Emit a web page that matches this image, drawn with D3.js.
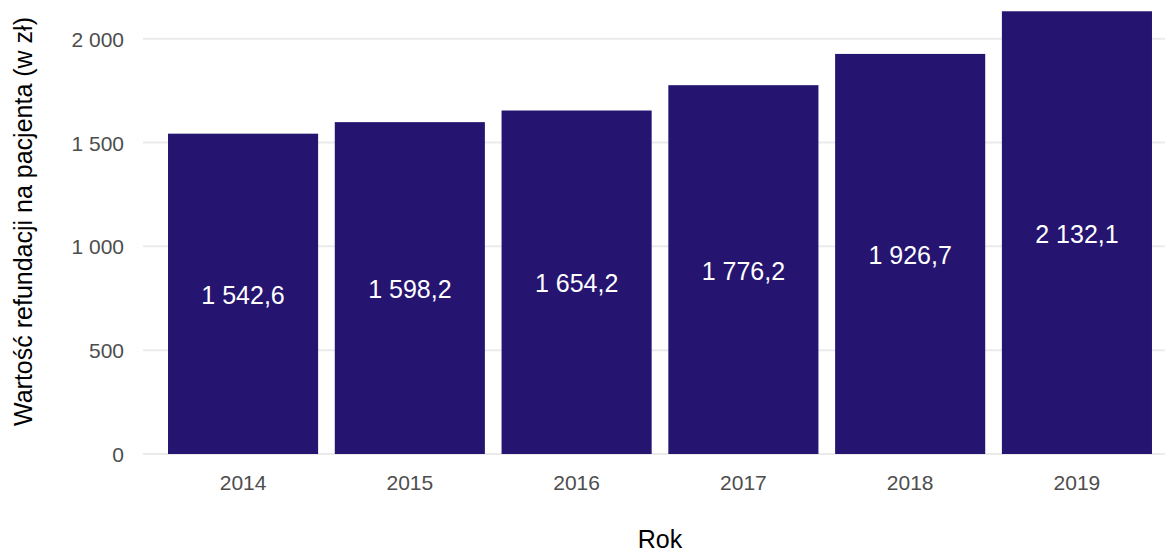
<!DOCTYPE html>
<html>
<head>
<meta charset="utf-8">
<script src="https://cdn.jsdelivr.net/npm/d3@7"></script>
<style>
  html, body { margin: 0; padding: 0; background: #fff; }
  svg { display: block; font-family: "Liberation Sans", Arial, sans-serif; }
</style>
</head>
<body>
<svg id="chart" width="1165" height="550"></svg>
<script>
// Refundacja na pacjenta w kolejnych latach
const years = ["2014", "2015", "2016", "2017", "2018", "2019"];
const values = [1542.6, 1598.2, 1654.2, 1776.2, 1926.7, 2132.1];
const yTicks = [0, 500, 1000, 1500, 2000];

const svg = d3.select("#chart");
const W = 1165, H = 550;

// panel extents
const panel = { left: 143, right: 1177, top: -11, bottom: 476 };

const x = d3.scaleBand()
  .domain(years)
  .range([panel.left, panel.right])
  .paddingInner(0.1)
  .paddingOuter(0.15);

const y = d3.scaleLinear()
  .domain([0, 2000])
  .range([454, 38.7]);

// Polish number formatting: space for thousands, comma for decimals
const pl = d3.formatLocale({ decimal: ",", thousands: "\u00a0", grouping: [3], currency: ["", " zł"] });
const fmtInt = pl.format(",.0f");
const fmtDec = pl.format(",.1f");

// gridlines
svg.append("g")
  .selectAll("line")
  .data(yTicks)
  .join("line")
  .attr("x1", panel.left)
  .attr("x2", W)
  .attr("y1", d => y(d))
  .attr("y2", d => y(d))
  .attr("stroke", "#ebebeb")
  .attr("stroke-width", 2);

// y axis labels
const yAxis = d3.axisLeft(y).tickValues(yTicks).tickSize(0).tickPadding(0).tickFormat(fmtInt);
const gy = svg.append("g").attr("transform", `translate(124,0)`).call(yAxis);
gy.select(".domain").remove();
gy.selectAll("text")
  .attr("fill", "#4d4d4d")
  .attr("font-size", 21)
  .attr("font-family", "Liberation Sans, Arial, sans-serif")
  .attr("dy", "0.36em");

// x axis labels
const xAxis = d3.axisBottom(x).tickSize(0).tickPadding(0);
const gx = svg.append("g").attr("transform", `translate(0,${482})`).call(xAxis);
gx.select(".domain").remove();
gx.selectAll("text")
  .attr("fill", "#4d4d4d")
  .attr("font-size", 21)
  .attr("font-family", "Liberation Sans, Arial, sans-serif")
  .attr("dy", "0.36em");

// bars
svg.append("g")
  .selectAll("rect")
  .data(values)
  .join("rect")
  .attr("x", (d, i) => x(years[i]))
  .attr("width", x.bandwidth())
  .attr("y", d => y(d))
  .attr("height", d => y(0) - y(d))
  .attr("fill", "#251570");

// value labels at half bar height
svg.append("g")
  .selectAll("text")
  .data(values)
  .join("text")
  .attr("x", (d, i) => x(years[i]) + x.bandwidth() / 2)
  .attr("y", d => y(d / 2))
  .attr("dy", "0.4em")
  .attr("text-anchor", "middle")
  .attr("fill", "#ffffff")
  .attr("font-size", 25)
  .text(d => fmtDec(d));

// axis titles
svg.append("text")
  .attr("x", (panel.left + panel.right) / 2)
  .attr("y", 548)
  .attr("text-anchor", "middle")
  .attr("font-size", 25)
  .attr("fill", "#000")
  .text("Rok");

svg.append("text")
  .attr("transform", `translate(32,221.5) rotate(-90)`)
  .attr("text-anchor", "middle")
  .attr("font-size", 25)
  .attr("fill", "#000")
  .text("Wartość refundacji na pacjenta (w zł)");
</script>
</body>
</html>
